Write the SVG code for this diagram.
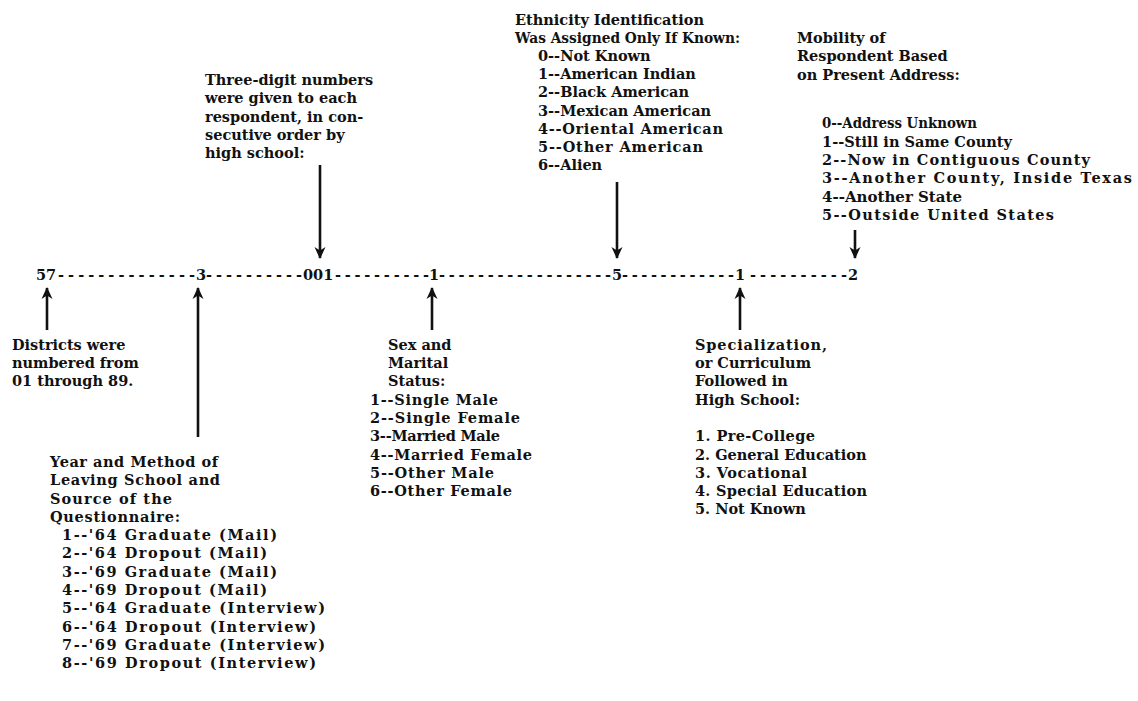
<svg xmlns="http://www.w3.org/2000/svg" width="1138" height="701" viewBox="0 0 1138 701">
<style>
text{font-family:"DejaVu Serif","Liberation Serif",serif;font-weight:bold;font-size:14.5px;fill:#111}
.c{stroke:#111;stroke-width:2.6;fill:none}
</style>
<defs>
<marker id="ah" viewBox="0 0 12 12" refX="11" refY="6" markerWidth="12" markerHeight="12" markerUnits="userSpaceOnUse" orient="auto">
<path d="M0,0.5 L12,6 L0,11.5 L3.5,6 z" fill="#111"/>
</marker>
</defs>
<rect width="1138" height="701" fill="#fff"/>
<g id="code-line">
<text x="36" y="280">57</text>
<text x="58" y="280" textLength="137" lengthAdjust="spacing">--------------</text>
<text x="196" y="280">3</text>
<text x="206" y="280" textLength="96" lengthAdjust="spacing">----------</text>
<text x="303" y="280">001</text>
<text x="335" y="280" textLength="94" lengthAdjust="spacing">----------</text>
<text x="429" y="280">1</text>
<text x="439" y="280" textLength="172" lengthAdjust="spacing">------------------</text>
<text x="612" y="280">5</text>
<text x="622" y="280" textLength="112" lengthAdjust="spacing">------------</text>
<text x="735" y="280">1</text>
<text x="750" y="280" textLength="97" lengthAdjust="spacing">----------</text>
<text x="848" y="280">2</text>
</g>
<g id="respondent-number">
<text x="205" y="85">Three-digit numbers</text>
<text x="205" y="103">were given to each</text>
<text x="205" y="122">respondent, in con-</text>
<text x="205" y="140">secutive order by</text>
<text x="205" y="158">high school:</text>
</g>
<g id="ethnicity">
<text x="515" y="25">Ethnicity Identification</text>
<text x="515" y="43" textLength="225" lengthAdjust="spacingAndGlyphs">Was Assigned Only If Known:</text>
<text x="538" y="61">0--Not Known</text>
<text x="538" y="79">1--American Indian</text>
<text x="538" y="97">2--Black American</text>
<text x="538" y="116">3--Mexican American</text>
<text x="538" y="134" textLength="185" lengthAdjust="spacing">4--Oriental American</text>
<text x="538" y="152" textLength="165" lengthAdjust="spacing">5--Other American</text>
<text x="538" y="170">6--Alien</text>
</g>
<g id="mobility">
<text x="797" y="43">Mobility of</text>
<text x="797" y="61">Respondent Based</text>
<text x="797" y="80">on Present Address:</text>
<text x="822" y="128" textLength="155" lengthAdjust="spacingAndGlyphs">0--Address Unknown</text>
<text x="822" y="147" textLength="190" lengthAdjust="spacing">1--Still in Same County</text>
<text x="822" y="165" textLength="268" lengthAdjust="spacing">2--Now in Contiguous County</text>
<text x="822" y="183" textLength="310" lengthAdjust="spacing">3--Another County, Inside Texas</text>
<text x="822" y="202" textLength="140" lengthAdjust="spacingAndGlyphs">4--Another State</text>
<text x="822" y="220" textLength="232" lengthAdjust="spacing">5--Outside United States</text>
</g>
<g id="districts">
<text x="12" y="350">Districts were</text>
<text x="12" y="368">numbered from</text>
<text x="12" y="386">01 through 89.</text>
</g>
<g id="year-method">
<text x="50" y="467" textLength="168" lengthAdjust="spacing">Year and Method of</text>
<text x="50" y="485" textLength="170" lengthAdjust="spacing">Leaving School and</text>
<text x="50" y="504" textLength="122" lengthAdjust="spacing">Source of the</text>
<text x="50" y="522" textLength="130" lengthAdjust="spacing">Questionnaire:</text>
<text x="62" y="540" textLength="215" lengthAdjust="spacing">1--'64 Graduate (Mail)</text>
<text x="62" y="558" textLength="205" lengthAdjust="spacing">2--'64 Dropout (Mail)</text>
<text x="62" y="577" textLength="215" lengthAdjust="spacing">3--'69 Graduate (Mail)</text>
<text x="62" y="595" textLength="205" lengthAdjust="spacing">4--'69 Dropout (Mail)</text>
<text x="62" y="613" textLength="263" lengthAdjust="spacing">5--'64 Graduate (Interview)</text>
<text x="62" y="632" textLength="254" lengthAdjust="spacing">6--'64 Dropout (Interview)</text>
<text x="62" y="650" textLength="263" lengthAdjust="spacing">7--'69 Graduate (Interview)</text>
<text x="62" y="668" textLength="254" lengthAdjust="spacing">8--'69 Dropout (Interview)</text>
</g>
<g id="sex-marital">
<text x="388" y="350">Sex and</text>
<text x="388" y="368">Marital</text>
<text x="388" y="386">Status:</text>
<text x="370" y="405" textLength="128" lengthAdjust="spacing">1--Single Male</text>
<text x="370" y="423" textLength="150" lengthAdjust="spacing">2--Single Female</text>
<text x="370" y="441" textLength="130" lengthAdjust="spacing">3--Married Male</text>
<text x="370" y="460" textLength="162" lengthAdjust="spacing">4--Married Female</text>
<text x="370" y="478" textLength="124" lengthAdjust="spacing">5--Other Male</text>
<text x="370" y="496" textLength="142" lengthAdjust="spacing">6--Other Female</text>
</g>
<g id="specialization">
<text x="695" y="350" textLength="132" lengthAdjust="spacing">Specialization,</text>
<text x="695" y="368">or Curriculum</text>
<text x="695" y="386">Followed in</text>
<text x="695" y="405">High School:</text>
<text x="695" y="441" textLength="120" lengthAdjust="spacing">1. Pre-College</text>
<text x="695" y="460">2. General Education</text>
<text x="695" y="478" textLength="112" lengthAdjust="spacing">3. Vocational</text>
<text x="695" y="496" textLength="172" lengthAdjust="spacing">4. Special Education</text>
<text x="695" y="514">5. Not Known</text>
</g>
<g id="connectors">
<path class="c" d="M320,165 L320,258" marker-end="url(#ah)"/>
<path class="c" d="M617,182 L617,258" marker-end="url(#ah)"/>
<path class="c" d="M855,230 L855,258" marker-end="url(#ah)"/>
<path class="c" d="M47,330 L47,288" marker-end="url(#ah)"/>
<path class="c" d="M198,437 L198,288" marker-end="url(#ah)"/>
<path class="c" d="M432,330 L432,288" marker-end="url(#ah)"/>
<path class="c" d="M740,330 L740,288" marker-end="url(#ah)"/>
</g>
</svg>
